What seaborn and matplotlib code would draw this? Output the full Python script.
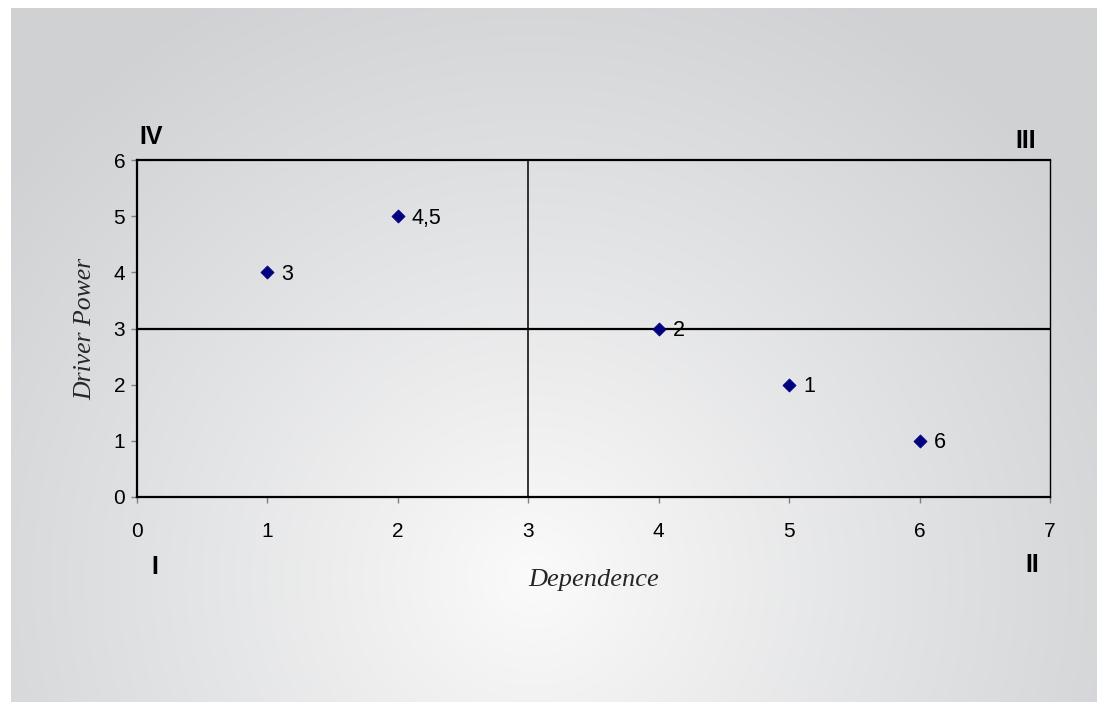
import numpy as np
import pandas as pd
import matplotlib.pyplot as plt
import seaborn as sns

# Data
dependence = [5, 4, 1, 2, 6]
driver_power = [2, 3, 4, 5, 1]
point_labels = ["1", "2", "3", "4,5", "6"]
x_ticks = [0, 1, 2, 3, 4, 5, 6, 7]
y_ticks = [0, 1, 2, 3, 4, 5, 6]
quadrants = ["I", "II", "III", "IV"]


def main():
    df = pd.DataFrame({"Dependence": dependence, "Driver Power": driver_power, "label": point_labels})

    sns.set_style("white")
    plt.rcParams["font.family"] = ["Liberation Sans", "DejaVu Sans"]

    fig = plt.figure(figsize=(10.97, 7.02), dpi=100)
    fig.patch.set_facecolor("white")

    # radial grey gradient backdrop (starts a few px in from the top-left)
    bg = fig.add_axes([11 / 1097, 0, 1 - 11 / 1097, 1 - 8 / 702])
    h, w = 300, 500
    yy, xx = np.mgrid[0:h, 0:w]
    cx, cy = 0.48 * w, 0.82 * h
    r = np.sqrt(((xx - cx) / w) ** 2 + ((yy - cy) / h * 0.65) ** 2)
    t = np.clip(r / 0.62, 0, 1) ** 0.9
    light = np.array([0.985, 0.985, 0.985])
    dark = np.array([0.815, 0.82, 0.83])
    img = light[None, None, :] * (1 - t[..., None]) + dark[None, None, :] * t[..., None]
    bg.imshow(img, aspect="auto", interpolation="bilinear")
    bg.axis("off")

    ax = fig.add_axes([137 / 1097, 1 - 497 / 702, 913 / 1097, 337 / 702])
    ax.patch.set_alpha(0)

    ax.axhline(3, color="black", lw=1.6, zorder=1)
    ax.axvline(3, color="black", lw=1.1, zorder=1)

    sns.scatterplot(data=df, x="Dependence", y="Driver Power", marker="D", s=45,
                    color="#000080", edgecolor="#000080", linewidth=0.5, ax=ax, zorder=3)

    for _, row in df.iterrows():
        ax.annotate(row["label"], (row["Dependence"], row["Driver Power"]),
                    xytext=(10, -1.5), textcoords="offset points",
                    ha="left", va="center", fontsize=15.5, color="black")

    ax.set_xlim(0, 7)
    ax.set_ylim(0, 6)
    ax.set_xticks(x_ticks)
    ax.set_yticks(y_ticks)
    ax.tick_params(axis="both", which="major", direction="out", length=4.5, width=1,
                   color="#808080", labelsize=15, labelcolor="black")
    ax.tick_params(axis="x", pad=13.5)
    ax.tick_params(axis="y", pad=4)
    ax.tick_params(left=True, bottom=True)

    for side in ["left", "bottom", "top"]:
        ax.spines[side].set_linewidth(1.6)
        ax.spines[side].set_color("black")
    ax.spines["right"].set_linewidth(1.0)
    ax.spines["right"].set_color("black")
    for s in ax.spines.values():
        s.set_visible(True)

    ax.set_xlabel("Dependence", fontsize=19, style="italic", family=["Liberation Serif"], labelpad=20)
    ax.set_ylabel("Driver Power", fontsize=18.5, style="italic", family=["Liberation Serif"], labelpad=12)

    # quadrant markers
    quad_pos = {"I": (0.02, -0.208, "center"), "II": (0.981, -0.202, "center"),
                "III": (0.985, 1.056, "right"), "IV": (0.003, 1.068, "left")}
    for q in quadrants:
        x, y, ha = quad_pos[q]
        ax.text(x, y, q, transform=ax.transAxes, ha=ha, va="center",
                fontsize=18, fontweight="bold", color="black")

    fig.savefig("out.png", dpi=100)


if __name__ == "__main__":
    main()
